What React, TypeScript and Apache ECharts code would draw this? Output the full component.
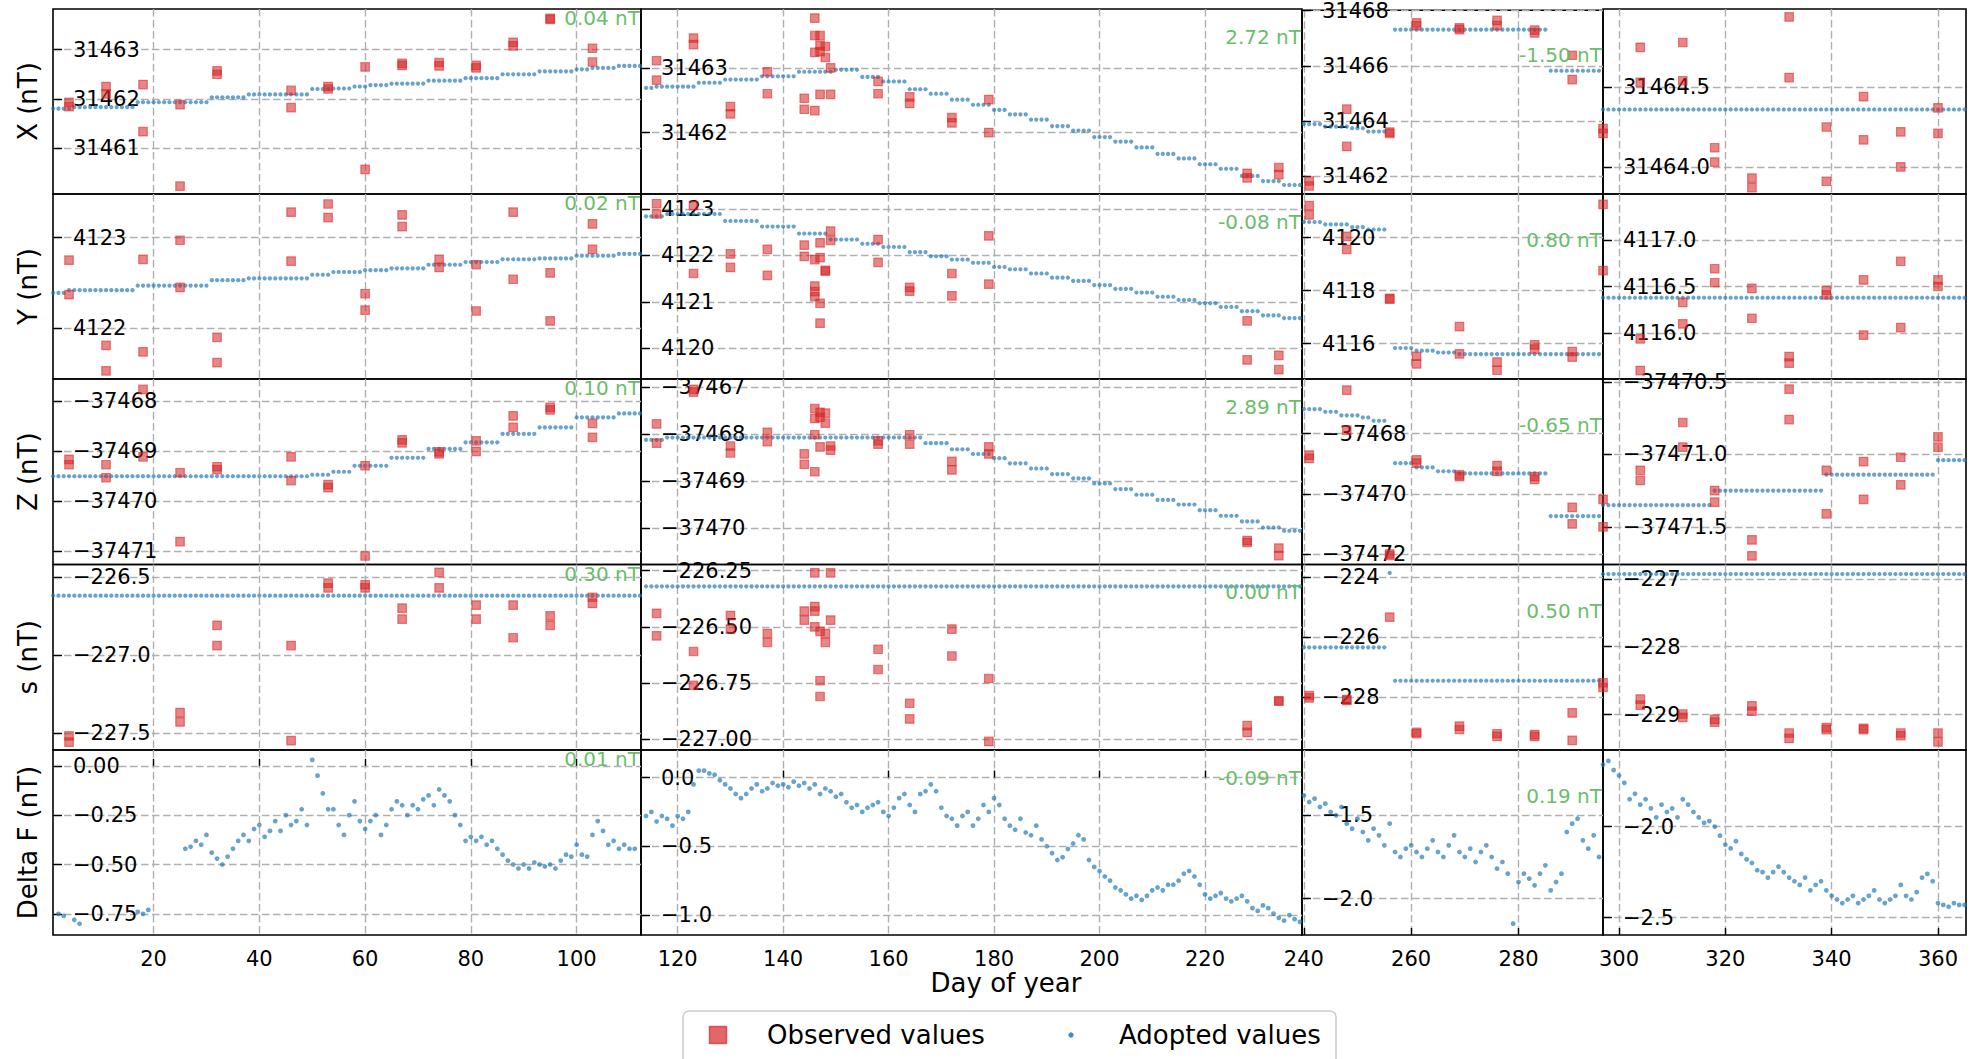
import React, { useEffect, useRef } from "react";
import * as echarts from "echarts";

const FONT = "DejaVu Sans";
const COL_LEFT = [53, 641, 1302, 1603];
const COL_RIGHT = [641, 1302, 1603, 1966];
const ROW_TOP = [9, 194, 379, 564.5, 750];
const ROW_BOTTOM = [194, 379, 564.5, 750, 935];

const rowLabels = ["X (nT)", "Y (nT)", "Z (nT)", "s (nT)", "Delta F (nT)"];
const colStartDay = [1, 113, 240, 297];
const xMin = [0.97, 113.04, 239.66, 296.99];
const xMax = [112.18, 238.4, 295.74, 365.27];
const xTicks = [
  [20, 40, 60, 80, 100],
  [120, 140, 160, 180, 200, 220],
  [240, 260, 280],
  [300, 320, 340, 360],
];

const yRange = [
  [[31460.06, 31463.83], [31461.05, 31463.91], [31461.36, 31468.01], [31463.83, 31464.99]],
  [[4121.44, 4123.48], [4119.34, 4123.32], [4114.66, 4121.65], [4115.51, 4117.49]],
  [[-37471.27, -37467.55], [-37470.78, -37466.82], [-37472.35, -37466.18], [-37471.76, -37470.48]],
  [[-227.61, -226.42], [-227.048, -226.223], [-229.75, -223.59], [-229.52, -226.79]],
  [[-0.857, 0.08], [-1.145, 0.2], [-2.218, -1.108], [-2.595, -1.58]],
];
const yTicks = [
  [[31461, 31462, 31463], [31462, 31463], [31462, 31464, 31466, 31468], [31464.0, 31464.5]],
  [[4122, 4123], [4120, 4121, 4122, 4123], [4116, 4118, 4120], [4116.0, 4116.5, 4117.0]],
  [[-37471, -37470, -37469, -37468], [-37470, -37469, -37468, -37467], [-37472, -37470, -37468], [-37471.5, -37471.0, -37470.5]],
  [[-227.5, -227.0, -226.5], [-227.0, -226.75, -226.5, -226.25], [-228, -226, -224], [-229, -228, -227]],
  [[-0.75, -0.5, -0.25, 0], [-1.0, -0.5, 0.0], [-2.0, -1.5], [-2.5, -2.0]],
];
const yDecimals = [
  [0, 0, 0, 1],
  [0, 0, 0, 1],
  [0, 0, 0, 1],
  [1, 2, 0, 0],
  [2, 1, 1, 1],
];
const offsetLabels = [
  ["0.04 nT", "2.72 nT", "-1.50 nT"],
  ["0.02 nT", "-0.08 nT", "0.80 nT"],
  ["0.10 nT", "2.89 nT", "-0.65 nT"],
  ["0.30 nT", "0.00 nT", "0.50 nT"],
  ["0.01 nT", "-0.09 nT", "0.19 nT"],
];

// ---------- Observed values [day, value] ----------
const obsX1 = [[4,31461.93],[4,31461.84],[11,31462.25],[11,31462.10],[18,31462.29],[18,31461.33],[25,31461.88],[25,31460.22],[32,31462.57],[32,31462.50],[46,31462.17],[46,31461.82],[53,31462.25],[53,31462.20],[60,31462.65],[60,31460.56],[67,31462.72],[67,31462.68],[74,31462.74],[74,31462.67],[81,31462.68],[81,31462.63],[88,31463.15],[88,31463.08],[95,31463.64],[95,31463.62],[103,31463.03],[103,31462.75]];
const obsX2 = [[116,31463.11],[116,31462.81],[123,31463.46],[123,31463.36],[130,31462.40],[130,31462.29],[137,31462.94],[137,31462.60],[144,31462.53],[144,31462.36],[146,31463.77],[146,31463.50],[146,31463.24],[146,31462.34],[147,31463.50],[147,31463.35],[147,31463.25],[147,31462.59],[148,31463.33],[148,31463.16],[149,31463.00],[149,31462.59],[158,31462.79],[158,31462.60],[164,31462.55],[164,31462.45],[172,31462.23],[172,31462.15],[179,31462.51],[179,31462.00],[228,31461.37],[228,31461.30],[234,31461.46],[234,31461.35]];
const obsX3 = [[241,31461.83],[241,31461.65],[248,31464.43],[248,31463.08],[256,31463.60],[256,31463.55],[261,31467.55],[261,31467.45],[269,31467.37],[269,31467.31],[276,31467.64],[276,31467.45],[283,31467.29],[283,31467.19],[290,31466.38],[290,31465.50]];
const obsX4 = [[297,31464.24],[297,31464.21],[304,31464.75],[304,31464.53],[312,31464.78],[312,31464.54],[318,31464.12],[318,31464.03],[325,31463.93],[325,31463.87],[332,31464.94],[332,31464.56],[339,31464.25],[339,31463.91],[346,31464.44],[346,31464.17],[353,31464.22],[353,31464.00],[360,31464.37],[360,31464.21]];

const obsY1 = [[4,4122.75],[4,4122.37],[11,4121.81],[11,4121.53],[18,4122.76],[18,4121.74],[25,4122.97],[25,4122.45],[32,4121.90],[32,4121.62],[46,4123.28],[46,4122.74],[53,4123.37],[53,4123.22],[60,4122.38],[60,4122.20],[67,4123.25],[67,4123.12],[74,4122.76],[74,4122.67],[81,4122.70],[81,4122.19],[88,4123.28],[88,4122.54],[95,4122.61],[95,4122.08],[103,4123.15],[103,4122.87]];
const obsY2 = [[116,4123.11],[116,4122.89],[123,4123.07],[123,4121.61],[130,4122.03],[130,4121.74],[137,4122.13],[137,4121.57],[144,4122.22],[144,4121.98],[146,4121.91],[146,4121.34],[146,4121.22],[146,4121.11],[147,4122.27],[147,4121.95],[147,4120.97],[147,4120.54],[148,4121.68],[148,4121.66],[149,4122.52],[149,4122.32],[158,4122.34],[158,4121.85],[164,4121.31],[164,4121.23],[172,4121.61],[172,4121.13],[179,4122.42],[179,4121.38],[228,4120.59],[228,4119.75],[234,4119.85],[234,4119.54]];
const obsY3 = [[241,4121.21],[241,4120.86],[248,4120.05],[248,4119.56],[256,4117.71],[256,4117.68],[261,4115.52],[261,4115.23],[269,4116.64],[269,4115.61],[276,4115.30],[276,4114.99],[283,4115.95],[283,4115.79],[290,4115.70],[290,4115.49]];
const obsY4 = [[297,4117.38],[297,4116.67],[304,4115.94],[304,4115.60],[312,4116.33],[312,4116.10],[318,4116.69],[318,4116.54],[325,4116.48],[325,4116.16],[332,4115.75],[332,4115.68],[339,4116.46],[339,4116.41],[346,4116.57],[346,4115.98],[353,4116.77],[353,4116.06],[360,4116.57],[360,4116.50]];

const obsZ1 = [[4,-37469.16],[4,-37469.27],[11,-37469.27],[11,-37469.53],[18,-37467.76],[18,-37469.11],[25,-37469.43],[25,-37470.81],[32,-37469.31],[32,-37469.37],[46,-37469.11],[46,-37469.59],[53,-37469.67],[53,-37469.73],[60,-37469.29],[60,-37471.10],[67,-37468.77],[67,-37468.83],[74,-37469.01],[74,-37469.05],[81,-37468.79],[81,-37469.00],[88,-37468.29],[88,-37468.52],[95,-37468.12],[95,-37468.17],[103,-37468.44],[103,-37468.72]];
const obsZ2 = [[116,-37467.78],[116,-37468.19],[123,-37467.04],[123,-37467.10],[130,-37468.25],[130,-37468.40],[137,-37467.96],[137,-37468.16],[144,-37468.42],[144,-37468.64],[146,-37467.45],[146,-37467.66],[146,-37468.01],[146,-37468.80],[147,-37467.53],[147,-37467.64],[147,-37468.27],[148,-37467.55],[148,-37467.76],[149,-37468.25],[149,-37468.34],[158,-37468.14],[158,-37468.21],[164,-37468.01],[164,-37468.21],[172,-37468.58],[172,-37468.76],[179,-37468.27],[179,-37468.42],[228,-37470.27],[228,-37470.31],[234,-37470.43],[234,-37470.59]];
const obsZ3 = [[241,-37468.71],[241,-37468.82],[248,-37466.55],[248,-37467.88],[256,-37472.00],[256,-37472.05],[261,-37468.87],[261,-37468.98],[269,-37469.37],[269,-37469.43],[276,-37469.06],[276,-37469.25],[283,-37469.43],[283,-37469.52],[290,-37470.45],[290,-37471.00]];
const obsZ4 = [[297,-37471.31],[297,-37471.50],[304,-37471.11],[304,-37471.18],[312,-37470.78],[312,-37470.95],[318,-37471.25],[318,-37471.33],[325,-37471.59],[325,-37471.70],[332,-37470.55],[332,-37470.76],[339,-37471.11],[339,-37471.41],[346,-37471.05],[346,-37471.31],[353,-37471.02],[353,-37471.21],[360,-37470.88],[360,-37470.95]];

const obsS1 = [[4,-227.52],[4,-227.56],[25,-227.37],[25,-227.43],[32,-226.81],[32,-226.94],[46,-226.94],[46,-227.55],[53,-226.54],[53,-226.57],[60,-226.55],[60,-226.57],[67,-226.70],[67,-226.77],[74,-226.47],[74,-226.57],[81,-226.68],[81,-226.77],[88,-226.68],[88,-226.89],[95,-226.75],[95,-226.81],[103,-226.63],[103,-226.67]];
const obsS2 = [[116,-226.44],[116,-226.54],[123,-226.61],[123,-226.76],[130,-226.45],[130,-226.51],[137,-226.53],[137,-226.57],[144,-226.43],[144,-226.47],[146,-226.26],[146,-226.41],[146,-226.43],[146,-226.50],[147,-226.52],[147,-226.74],[147,-226.81],[148,-226.53],[148,-226.57],[149,-226.26],[149,-226.47],[158,-226.60],[158,-226.69],[164,-226.84],[164,-226.91],[172,-226.51],[172,-226.63],[179,-226.73],[179,-227.01],[228,-226.94],[228,-226.97],[234,-226.83],[234,-226.83]];
const obsS3 = [[241,-227.94],[241,-228.02],[248,-228.08],[248,-228.10],[256,-225.34],[261,-229.16],[261,-229.21],[269,-228.96],[269,-229.07],[276,-229.21],[276,-229.30],[283,-229.24],[283,-229.30],[290,-228.52],[290,-229.43]];
const obsS4 = [[297,-228.53],[297,-228.60],[304,-228.77],[304,-228.86],[312,-228.99],[312,-229.04],[318,-229.07],[318,-229.11],[325,-228.87],[325,-228.95],[332,-229.27],[332,-229.35],[339,-229.19],[339,-229.22],[346,-229.20],[346,-229.22],[353,-229.27],[353,-229.31],[360,-229.27],[360,-229.40]];

// ---------- Adopted values: runs of [value, number of consecutive days] ----------
const adoptX1 = [[31461.80,4],[31461.83,12],[31461.93,14],[31462.03,7],[31462.09,12],[31462.20,4],[31462.21,4],[31462.25,3],[31462.28,4],[31462.31,7],[31462.37,7],[31462.42,7],[31462.50,7],[31462.56,7],[31462.60,3],[31462.63,5],[31462.67,5]];
const adoptX2 = [[31462.69,3],[31462.71,8],[31462.77,5],[31462.82,7],[31462.87,7],[31462.94,7],[31462.97,5],[31462.86,4],[31462.79,5],[31462.67,4],[31462.60,4],[31462.51,4],[31462.43,4],[31462.35,3],[31462.28,4],[31462.20,4],[31462.10,4],[31462.03,4],[31461.93,4],[31461.86,4],[31461.77,4],[31461.67,4],[31461.60,4],[31461.51,4],[31461.44,4],[31461.33,4],[31461.25,4],[31461.19,4]];
const adoptX3 = [[31463.89,4],[31463.80,5],[31463.74,3],[31463.62,4],[null,1],[31467.31,29],[31465.82,10]];
const adoptX4 = [[31464.36,69]];

const adoptY1 = [[4122.39,3],[4122.42,13],[4122.47,14],[4122.53,7],[4122.55,12],[4122.59,4],[4122.62,6],[4122.64,5],[4122.66,7],[4122.70,7],[4122.73,7],[4122.76,7],[4122.77,7],[4122.80,8],[4122.82,5]];
const adoptY2 = [[4122.84,5],[4122.89,11],[4122.74,7],[4122.62,7],[4122.47,6],[4122.34,6],[4122.25,4],[4122.18,5],[4122.07,4],[4121.98,4],[4121.91,4],[4121.84,4],[4121.75,3],[4121.70,4],[4121.61,4],[4121.52,4],[4121.45,4],[4121.36,4],[4121.28,4],[4121.20,4],[4121.11,4],[4121.04,4],[4120.97,4],[4120.89,4],[4120.80,4],[4120.71,4],[4120.65,4]];
const adoptY3 = [[4120.59,4],[4120.50,5],[4120.40,3],[4120.31,4],[null,1],[4115.83,4],[4115.73,4],[4115.66,4],[4115.60,27]];
const adoptY4 = [[4116.38,69]];

const adoptZ1 = [[-37469.50,49],[-37469.47,4],[-37469.41,4],[-37469.29,7],[-37469.13,7],[-37468.95,7],[-37468.82,7],[-37468.65,7],[-37468.52,7],[-37468.32,8],[-37468.24,5]];
const adoptZ2 = [[-37468.12,5],[-37468.07,49],[-37468.19,5],[-37468.32,4],[-37468.42,4],[-37468.51,3],[-37468.62,4],[-37468.73,4],[-37468.85,4],[-37468.94,4],[-37469.05,4],[-37469.17,4],[-37469.29,4],[-37469.40,4],[-37469.50,4],[-37469.62,4],[-37469.74,4],[-37469.86,4],[-37469.99,4],[-37470.06,4]];
const adoptZ3 = [[-37467.18,4],[-37467.27,3],[-37467.39,4],[-37467.46,2],[-37467.57,3],[null,1],[-37468.98,4],[-37469.12,4],[-37469.25,4],[-37469.32,17],[-37470.74,10]];
const adoptZ4 = [[-37471.35,21],[-37471.25,21],[-37471.14,21],[-37471.04,6]];

const adoptS1 = [[-226.62,112]];
const adoptS2 = [[-226.32,126]];
const adoptS3 = [[-226.34,16],[-223.87,1],[-227.45,39]];
const adoptS4 = [[-226.93,69]];

// ---------- Delta F [day, value] ----------
const dF1 = [[2,-0.75],[3,-0.76],[5,-0.78],[6,-0.80],[17,-0.74],[18,-0.75],[19,-0.73],[26,-0.42],[27,-0.41],[28,-0.38],[29,-0.40],[30,-0.35],[31,-0.44],[32,-0.47],[33,-0.50],[34,-0.46],[35,-0.42],[36,-0.38],[37,-0.35],[38,-0.38],[39,-0.32],[40,-0.30],[41,-0.36],[42,-0.33],[43,-0.28],[44,-0.33],[45,-0.25],[46,-0.30],[47,-0.28],[48,-0.22],[49,-0.30],[50,0.03],[51,-0.05],[52,-0.14],[53,-0.22],[54,-0.22],[55,-0.30],[56,-0.35],[57,-0.25],[58,-0.18],[59,-0.28],[60,-0.32],[61,-0.28],[62,-0.25],[63,-0.35],[64,-0.30],[65,-0.22],[66,-0.18],[67,-0.20],[68,-0.25],[69,-0.20],[70,-0.22],[71,-0.17],[72,-0.15],[73,-0.20],[74,-0.12],[75,-0.15],[76,-0.18],[77,-0.25],[78,-0.30],[79,-0.38],[80,-0.36],[81,-0.38],[82,-0.36],[83,-0.40],[84,-0.38],[85,-0.42],[86,-0.45],[87,-0.48],[88,-0.50],[89,-0.52],[90,-0.50],[91,-0.52],[92,-0.49],[93,-0.50],[94,-0.51],[95,-0.50],[96,-0.52],[97,-0.48],[98,-0.45],[99,-0.46],[100,-0.40],[101,-0.45],[102,-0.46],[103,-0.35],[104,-0.28],[105,-0.33],[106,-0.40],[107,-0.38],[108,-0.42],[109,-0.40],[110,-0.42],[111,-0.42]];
const dF2 = [[113,-0.30],[114,-0.28],[115,-0.25],[116,-0.32],[117,-0.28],[118,-0.30],[119,-0.35],[120,-0.28],[121,-0.30],[122,-0.25],[123,-0.05],[124,0.05],[125,0.05],[126,0.03],[127,0.02],[128,-0.02],[129,-0.05],[130,-0.08],[131,-0.12],[132,-0.15],[133,-0.12],[134,-0.08],[135,-0.05],[136,-0.10],[137,-0.08],[138,-0.04],[139,-0.06],[140,-0.05],[141,-0.07],[142,-0.03],[143,-0.06],[144,-0.04],[145,-0.08],[146,-0.05],[147,-0.12],[148,-0.08],[149,-0.10],[150,-0.14],[151,-0.12],[152,-0.18],[153,-0.22],[154,-0.20],[155,-0.25],[156,-0.22],[157,-0.20],[158,-0.18],[159,-0.25],[160,-0.28],[161,-0.22],[162,-0.15],[163,-0.12],[164,-0.20],[165,-0.25],[166,-0.12],[167,-0.10],[168,-0.05],[169,-0.10],[170,-0.22],[171,-0.28],[172,-0.30],[173,-0.35],[174,-0.28],[175,-0.25],[176,-0.35],[177,-0.30],[178,-0.20],[179,-0.25],[180,-0.15],[181,-0.20],[182,-0.30],[183,-0.35],[184,-0.38],[185,-0.30],[186,-0.40],[187,-0.42],[188,-0.35],[189,-0.45],[190,-0.50],[191,-0.55],[192,-0.60],[193,-0.58],[194,-0.52],[195,-0.48],[196,-0.42],[197,-0.45],[198,-0.60],[199,-0.65],[200,-0.68],[201,-0.72],[202,-0.75],[203,-0.80],[204,-0.82],[205,-0.85],[206,-0.88],[207,-0.86],[208,-0.89],[209,-0.86],[210,-0.82],[211,-0.80],[212,-0.82],[213,-0.78],[214,-0.78],[215,-0.75],[216,-0.70],[217,-0.68],[218,-0.72],[219,-0.78],[220,-0.85],[221,-0.88],[222,-0.86],[223,-0.84],[224,-0.88],[225,-0.90],[226,-0.88],[227,-0.86],[228,-0.90],[229,-0.95],[230,-0.97],[231,-0.93],[232,-0.95],[233,-0.99],[234,-1.02],[235,-1.04],[236,-1.00],[237,-1.03],[238,-1.05]];
const dF3 = [[240,-1.38],[241,-1.42],[242,-1.40],[243,-1.45],[244,-1.43],[245,-1.48],[246,-1.50],[247,-1.45],[248,-1.55],[249,-1.58],[250,-1.52],[251,-1.60],[252,-1.65],[253,-1.58],[254,-1.62],[255,-1.68],[256,-1.55],[257,-1.72],[258,-1.75],[259,-1.70],[260,-1.68],[261,-1.72],[262,-1.75],[263,-1.70],[264,-1.65],[265,-1.72],[266,-1.75],[267,-1.68],[268,-1.62],[269,-1.72],[270,-1.75],[271,-1.70],[272,-1.78],[273,-1.72],[274,-1.68],[275,-1.75],[276,-1.82],[277,-1.78],[278,-1.85],[279,-2.15],[280,-1.90],[281,-1.85],[282,-1.88],[283,-1.92],[284,-1.85],[285,-1.80],[286,-1.95],[287,-1.90],[288,-1.85],[289,-1.60],[290,-1.55],[291,-1.52],[292,-1.65],[293,-1.70],[294,-1.62],[295,-1.75]];
const dF4 = [[297,-1.66],[298,-1.64],[299,-1.69],[300,-1.72],[301,-1.76],[302,-1.85],[303,-1.82],[304,-1.88],[305,-1.85],[306,-1.90],[307,-1.95],[308,-1.88],[309,-1.92],[310,-1.90],[311,-1.95],[312,-1.85],[313,-1.88],[314,-1.92],[315,-1.95],[316,-1.98],[317,-1.97],[318,-2.00],[319,-2.05],[320,-2.10],[321,-2.12],[322,-2.08],[323,-2.15],[324,-2.18],[325,-2.20],[326,-2.24],[327,-2.25],[328,-2.28],[329,-2.25],[330,-2.22],[331,-2.25],[332,-2.28],[333,-2.30],[334,-2.32],[335,-2.28],[336,-2.35],[337,-2.32],[338,-2.30],[339,-2.35],[340,-2.38],[341,-2.40],[342,-2.42],[343,-2.40],[344,-2.38],[345,-2.42],[346,-2.40],[347,-2.38],[348,-2.35],[349,-2.40],[350,-2.42],[351,-2.40],[352,-2.38],[353,-2.32],[354,-2.38],[355,-2.40],[356,-2.36],[357,-2.28],[358,-2.26],[359,-2.30],[360,-2.42],[361,-2.43],[362,-2.44],[363,-2.42],[364,-2.43],[365,-2.43]];

const observed = [
  [obsX1, obsX2, obsX3, obsX4],
  [obsY1, obsY2, obsY3, obsY4],
  [obsZ1, obsZ2, obsZ3, obsZ4],
  [obsS1, obsS2, obsS3, obsS4],
];
const adopted = [
  [adoptX1, adoptX2, adoptX3, adoptX4],
  [adoptY1, adoptY2, adoptY3, adoptY4],
  [adoptZ1, adoptZ2, adoptZ3, adoptZ4],
  [adoptS1, adoptS2, adoptS3, adoptS4],
];
const deltaF = [dF1, dF2, dF3, dF4];

const RED = "rgba(214,39,40,0.7)";
const BLUE = "rgba(31,119,180,0.85)";
const GREEN = "#6bbd6b";
const TICK_FONT = 21;
const LABEL_FONT = 26;

function expandRuns(start: number, runs: any[]) {
  const out: number[][] = [];
  let d = start;
  for (const [v, n] of runs) {
    for (let i = 0; i < n; i++) {
      if (v !== null) out.push([d, v]);
      d++;
    }
  }
  return out;
}

function fmt(v: number, dec: number) {
  const s = Math.abs(v).toFixed(dec);
  return (v < -1e-9 ? "\u2212" : "") + s;
}

function buildOption() {
  const grid: any[] = [];
  const xAxis: any[] = [];
  const yAxis: any[] = [];
  const series: any[] = [];
  const graphic: any[] = [];

  for (let r = 0; r < 5; r++) {
    for (let c = 0; c < 4; c++) {
      const idx = r * 4 + c;
      grid.push({
        left: COL_LEFT[c],
        top: ROW_TOP[r],
        width: COL_RIGHT[c] - COL_LEFT[c],
        height: ROW_BOTTOM[r] - ROW_TOP[r],
        show: true,
        borderColor: "#000",
        borderWidth: 1.6,
        backgroundColor: "transparent",
      });
      xAxis.push({
        type: "value",
        gridIndex: idx,
        min: xMin[c],
        max: xMax[c],
        axisLine: { show: false },
        axisTick: {
          show: true,
          inside: true,
          length: r === 4 ? 7 : 0,
          customValues: xTicks[c],
          lineStyle: { color: "#000", width: 1.4 },
        },
        axisLabel: {
          show: r === 4,
          customValues: xTicks[c],
          fontSize: TICK_FONT,
          fontFamily: FONT,
          color: "#000",
          margin: 13,
        },
        splitLine: {
          show: true,
          lineStyle: { color: "#b0b0b0", type: [7.5, 3.5], width: 1.4 },
        },
      });
      const dec = yDecimals[r][c];
      yAxis.push({
        type: "value",
        gridIndex: idx,
        min: yRange[r][c][0],
        max: yRange[r][c][1],
        axisLine: { show: false },
        axisTick: {
          show: true,
          inside: true,
          length: 9,
          customValues: yTicks[r][c],
          lineStyle: { color: "#000", width: 1.4 },
        },
        axisLabel: {
          show: true,
          inside: true,
          margin: 20,
          customValues: yTicks[r][c],
          fontSize: TICK_FONT,
          fontFamily: FONT,
          color: "#000",
          formatter: (v: number) => fmt(v, dec),
        },
        splitLine: {
          show: true,
          lineStyle: { color: "#b0b0b0", type: [7.5, 3.5], width: 1.4 },
        },
      });

      if (r < 4) {
        series.push({
          type: "scatter",
          name: "Adopted values",
          xAxisIndex: idx,
          yAxisIndex: idx,
          symbol: "circle",
          symbolSize: 4.2,
          itemStyle: { color: BLUE },
          data: expandRuns(colStartDay[c], adopted[r][c]),
          clip: true,
          silent: true,
          z: 2,
        });
        series.push({
          type: "scatter",
          name: "Observed values",
          xAxisIndex: idx,
          yAxisIndex: idx,
          symbol: "rect",
          symbolSize: 8.5,
          itemStyle: { color: RED, borderColor: RED, borderWidth: 1.2 },
          data: observed[r][c],
          clip: true,
          silent: true,
          z: 3,
        });
      } else {
        series.push({
          type: "scatter",
          name: "Adopted values",
          xAxisIndex: idx,
          yAxisIndex: idx,
          symbol: "circle",
          symbolSize: 4.8,
          itemStyle: { color: BLUE },
          data: deltaF[c],
          clip: true,
          silent: true,
          z: 2,
        });
      }

      if (c < 3) {
        const frac = [0.05, 0.15, 0.25][c];
        const h = ROW_BOTTOM[r] - ROW_TOP[r];
        graphic.push({
          type: "text",
          x: COL_RIGHT[c] - 1,
          y: ROW_TOP[r] + frac * h,
          z: 50,
          style: {
            text: offsetLabels[r][c],
            fill: GREEN,
            fontSize: 20,
            fontFamily: FONT,
            align: "right",
            verticalAlign: "middle",
          },
        });
      }
    }
    graphic.push({
      type: "text",
      x: 28,
      y: (ROW_TOP[r] + ROW_BOTTOM[r]) / 2,
      rotation: Math.PI / 2,
      style: {
        text: rowLabels[r],
        fill: "#000",
        fontSize: LABEL_FONT,
        fontFamily: FONT,
        align: "center",
        verticalAlign: "middle",
      },
    });
  }

  graphic.push({
    type: "text",
    x: 1006,
    y: 983,
    style: {
      text: "Day of year",
      fill: "#000",
      fontSize: LABEL_FONT,
      fontFamily: FONT,
      align: "center",
      verticalAlign: "middle",
    },
  });

  // legend box
  graphic.push({
    type: "rect",
    shape: { x: 683, y: 1011, width: 653, height: 70, r: 6 },
    style: { fill: "#fff", stroke: "#cccccc", lineWidth: 1.5 },
    z: 60,
  });
  graphic.push({
    type: "rect",
    shape: { x: 709.5, y: 1026.5, width: 17, height: 17 },
    style: { fill: RED, stroke: RED, lineWidth: 1.5 },
    z: 61,
  });
  graphic.push({
    type: "text",
    x: 767,
    y: 1035,
    z: 61,
    style: {
      text: "Observed values",
      fill: "#000",
      fontSize: LABEL_FONT,
      fontFamily: FONT,
      align: "left",
      verticalAlign: "middle",
    },
  });
  graphic.push({
    type: "circle",
    shape: { cx: 1071, cy: 1035, r: 2.6 },
    style: { fill: BLUE },
    z: 61,
  });
  graphic.push({
    type: "text",
    x: 1119,
    y: 1035,
    z: 61,
    style: {
      text: "Adopted values",
      fill: "#000",
      fontSize: LABEL_FONT,
      fontFamily: FONT,
      align: "left",
      verticalAlign: "middle",
    },
  });

  return {
    animation: false,
    backgroundColor: "#fff",
    textStyle: { fontFamily: FONT },
    grid,
    xAxis,
    yAxis,
    series,
    graphic,
  };
}

export default function App() {
  const ref = useRef<HTMLDivElement>(null);
  useEffect(() => {
    if (!ref.current) return;
    const chart = echarts.init(ref.current, undefined, { renderer: "svg" });
    chart.setOption(buildOption() as any);
    return () => chart.dispose();
  }, []);
  return (
    <div
      ref={ref}
      style={{ position: "absolute", left: 0, top: 0, width: 1982, height: 1059 }}
    />
  );
}
